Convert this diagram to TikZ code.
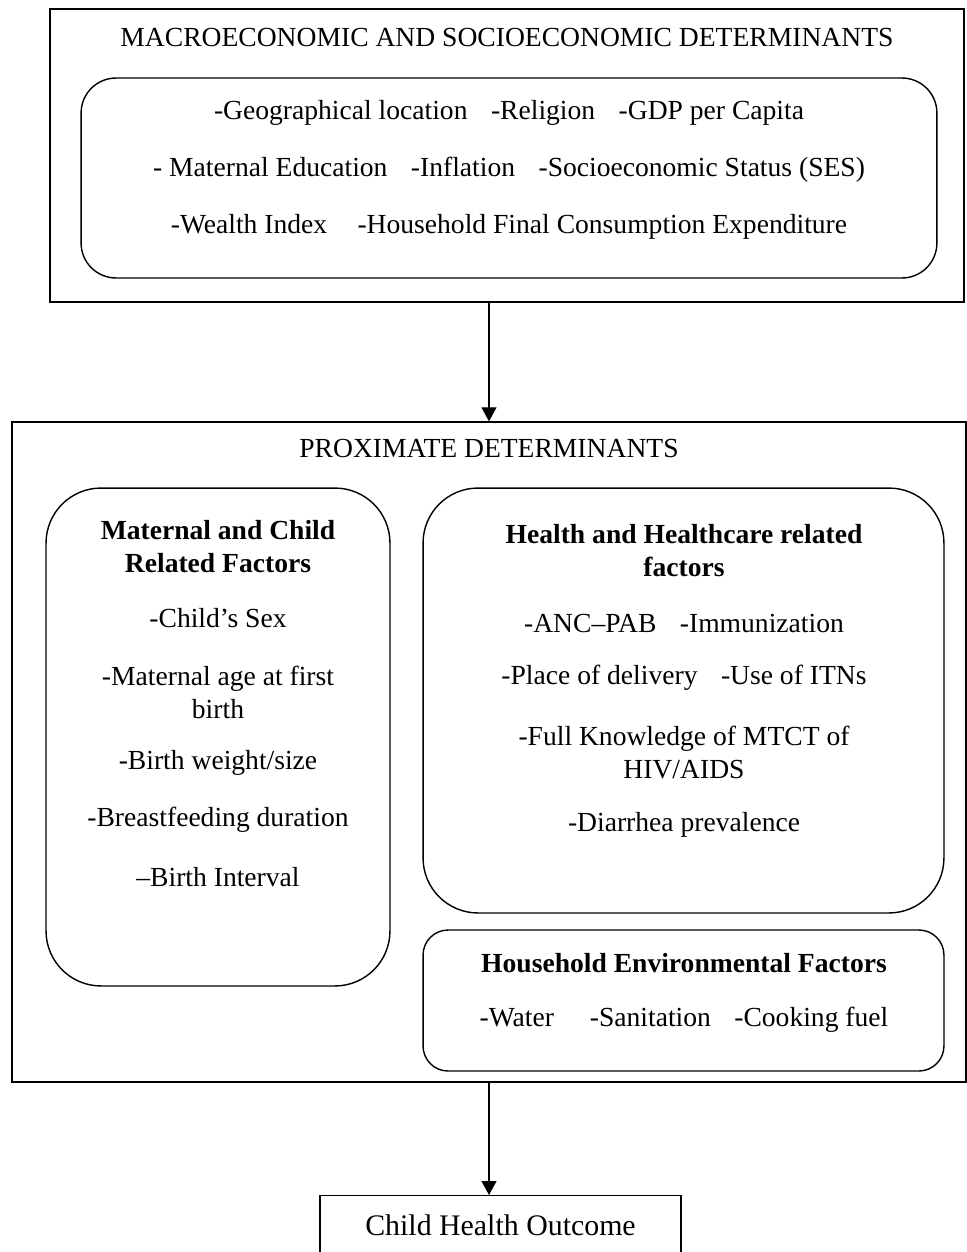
\documentclass[tikz,border=0pt]{standalone}
\usepackage{fontspec}
\setmainfont{Liberation Serif}
\usetikzlibrary{positioning, arrows.meta, calc}

\newcommand{\itemgap}{\hspace{0.85em}}

\begin{document}
\begin{tikzpicture}[
        x=0.02cm, y=-0.02cm,
        % Define styles
        frame/.style={draw, thick, inner sep=0pt},
        group/.style={draw, thick, rounded corners=1.1cm, inner sep=0pt},
        txt/.style={inner sep=0pt, align=center, font=\fontsize{15.7}{18.8}\selectfont},
        head/.style={txt, font=\fontsize{15.7}{18.8}\selectfont\bfseries},
        arrow/.style={-{Triangle[length=0.28cm, width=0.3cm]}, semithick}
    ]
    \useasboundingbox (0,0) rectangle (967,1252);

    % 1. Macroeconomic and socioeconomic determinants
    \node[frame, minimum width=18.28cm, minimum height=5.86cm] (macro) at (507,155.5) {};
    \node[group, rounded corners=0.7cm, minimum width=17.12cm, minimum height=4cm] (macroin) at (509,178) {};
    \node[txt] (macrotitle) at (507,37) {MACROECONOMIC AND SOCIOECONOMIC DETERMINANTS};
    \node[txt] (m1) at (509,113) {-Geographical location\itemgap-Religion\itemgap-GDP per Capita};
    \node[txt] (m2) at (509,170) {- Maternal Education\itemgap-Inflation\itemgap-Socioeconomic Status (SES)};
    \node[txt] (m3) at (509,227) {-Wealth Index\hspace{1.1em}-Household Final Consumption Expenditure};

    % 2. Proximate determinants
    \node[frame, minimum width=19.08cm, minimum height=13.2cm] (prox) at (489,752) {};
    \node[txt] (proxtitle) at (489,448) {PROXIMATE DETERMINANTS};

    % Maternal and child related factors
    \node[group, minimum width=6.88cm, minimum height=9.96cm] (mat) at (218,737) {};
    \node[head] (mattitle) at (218,546.5) {Maternal and Child\\Related Factors};
    \node[txt] (c1) at (218,618) {-Child’s Sex};
    \node[txt] (c2) at (218,692) {-Maternal age at first\\birth};
    \node[txt] (c3) at (218,763) {-Birth weight/size};
    \node[txt] (c4) at (218,820) {-Breastfeeding duration};
    \node[txt] (c5) at (218,877) {–Birth Interval};

    % Health and healthcare related factors
    \node[group, minimum width=10.42cm, minimum height=8.5cm] (health) at (683.5,700.5) {};
    \node[head] (healthtitle) at (684,551) {Health and Healthcare related\\factors};
    \node[txt] (h1) at (684,623) {-ANC–PAB\itemgap-Immunization};
    \node[txt] (h2) at (684,678) {-Place of delivery\itemgap-Use of ITNs};
    \node[txt] (h3) at (684,752.5) {-Full Knowledge of MTCT of\\HIV/AIDS};
    \node[txt] (h4) at (684,825) {-Diarrhea prevalence};

    % Household environmental factors
    \node[group, rounded corners=0.5cm, minimum width=10.42cm, minimum height=2.82cm] (house) at (683.5,1000.5) {};
    \node[head] (housetitle) at (684,963) {Household Environmental Factors};
    \node[txt] (e1) at (684,1020) {-Water\hspace{1.3em}-Sanitation\itemgap-Cooking fuel};

    % 3. Outcome
    \node[frame, anchor=north, minimum width=7.22cm, inner ysep=0.38cm, text depth=1.2cm,
          font=\fontsize{17}{20}\selectfont] (outcome) at (500.5,1195) {Child Health Outcome};

    % Arrows
    \draw[arrow] (prox.north |- macro.south) -- (prox.north);
    \draw[arrow] (prox.south) -- (prox.south |- outcome.north);

\end{tikzpicture}
\end{document}
